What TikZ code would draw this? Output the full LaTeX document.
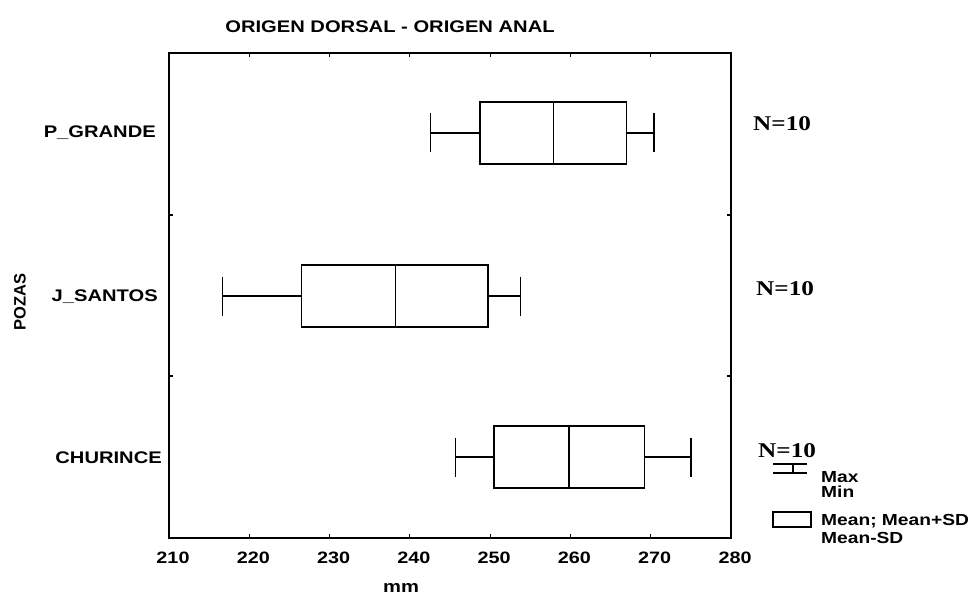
\documentclass[tikz,border=0pt]{standalone}
\usepackage{fontspec}
\newfontfamily\labfont{Liberation Sans}[FakeStretch=1.2]
\newfontfamily\rotfont{Liberation Sans}
\newfontfamily\nfont{Liberation Serif}[FakeStretch=1.2]
\newcommand\boxrow[6]{%
  \draw[whisk] (#2,#1) -- (#3,#1) (#5,#1) -- (#6,#1);
  \draw[whisk] (#2,#1-19.5) -- (#2,#1+19.5) (#6,#1-19.5) -- (#6,#1+19.5);
  \draw[boxline] (#3,#1-31) rectangle (#5,#1+31);
  \draw[boxline] (#4,#1-31) -- (#4,#1+31);}
\tikzset{
  frameline/.style={line width=2.2pt},
  boxline/.style={line width=1.6pt},
  whisk/.style={line width=1.4pt},
  tickline/.style={line width=1.2pt},
  lab/.style={font=\labfont\bfseries\fontsize{16.8}{19}\selectfont, inner sep=0pt},
  ticklab/.style={font=\labfont\bfseries\fontsize{16.5}{19}\selectfont, inner sep=0pt},
  leg/.style={font=\labfont\bfseries\fontsize{16}{18}\selectfont, inner sep=0pt, anchor=west},
  nlab/.style={font=\nfont\bfseries\fontsize{21}{24}\selectfont, inner sep=0pt, anchor=west},
}
\begin{document}
\begin{tikzpicture}[x=1pt,y=-1pt]
\useasboundingbox[fill=white] (0,0) rectangle (980,604);
\begin{scope}[x=8.029pt, xshift=-1517.09pt]
  \draw[frameline] (210,53) rectangle (280,538);
  \foreach \v in {220,230,...,270} {
    \draw[tickline] (\v,53) -- (\v,57);
    \draw[tickline] (\v,538) -- (\v,534);
  }
  \foreach \yy in {215,376} {
    \draw[tickline] (210,\yy) -- (210.5,\yy);
    \draw[tickline] (280,\yy) -- (279.5,\yy);
  }
  \foreach \v in {210,220,...,280} {
    \node[ticklab, xshift=4pt] (tl\v) at (\v,558) {\v};
  }
  \boxrow{133}{242.6}{248.7}{257.9}{267.0}{270.4}
  \boxrow{296}{216.7}{226.5}{238.2}{249.7}{253.8}
  \boxrow{457}{245.7}{250.5}{259.8}{269.2}{275.0}
\end{scope}
\node[lab] (title) at (390,27) {ORIGEN DORSAL - ORIGEN ANAL};
\node[lab] (xlab) at (401,588) {mm};
\node[font=\rotfont\bfseries\fontsize{16.5}{18}\selectfont, inner sep=0pt, rotate=90] (ylab) at (20,302) {POZAS};
\node[lab, anchor=east] (c1) at (156,133) {P\_GRANDE};
\node[lab, anchor=east] (c2) at (158,297) {J\_SANTOS};
\node[lab, anchor=east] (c3) at (162,458) {CHURINCE};
\node[nlab] (n1) at (753,124) {N=10};
\node[nlab] (n2) at (756,289) {N=10};
\node[nlab] (n3) at (758,451) {N=10};
\draw[whisk] (773,464) -- (807,464) (793,464) -- (793,473) (773,473) -- (807,473);
\draw[boxline] (773,512) rectangle (811,527);
\node[leg] (lmax) at (821,477) {Max};
\node[leg] (lmin) at (821,492) {Min};
\node[leg] (lmean) at (821,521) {Mean; Mean+SD};
\node[leg] (lsd) at (821,538) {Mean-SD};
\end{tikzpicture}
\end{document}
